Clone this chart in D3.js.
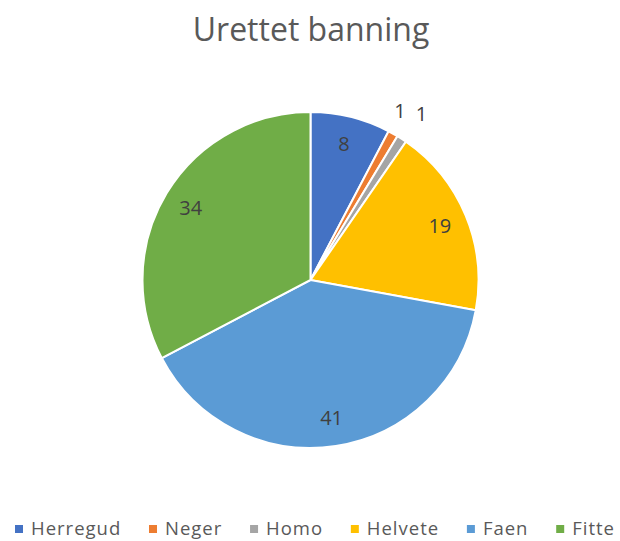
<!DOCTYPE html>
<html>
<head>
<meta charset="utf-8">
<script src="https://cdn.jsdelivr.net/npm/d3@7"></script>
<style>
  body { margin: 0; background: #fff; }
  text { font-family: "Open Sans", "Noto Sans", sans-serif; }
</style>
</head>
<body>
<svg id="chart"></svg>
<script>
const categories = ['Herregud', 'Neger', 'Homo', 'Helvete', 'Faen', 'Fitte'];
const values = [8, 1, 1, 19, 41, 34];
const colors = ['#4472C4', '#ED7D31', '#A5A5A5', '#FFC000', '#5B9BD5', '#70AD47'];
const title = 'Urettet banning';

const width = 620, height = 541;
const cx = 310.5, cy = 280, radius = 168;

const svg = d3.select('#chart')
  .attr('width', width)
  .attr('height', height);

svg.append('text')
  .attr('x', 311)
  .attr('y', 41)
  .attr('text-anchor', 'middle')
  .attr('font-size', 32)
  .attr('fill', '#595959')
  .text(title);

const data = categories.map((c, i) => ({ name: c, value: values[i], color: colors[i] }));

const pie = d3.pie().sort(null).value(d => d.value);
const arcs = pie(data);

const arc = d3.arc().innerRadius(0).outerRadius(radius);
const labelArc = d3.arc().innerRadius(140).outerRadius(140);
const outerLabelArc = d3.arc().innerRadius(194).outerRadius(194);

const g = svg.append('g').attr('transform', `translate(${cx},${cy})`);

g.selectAll('path')
  .data(arcs)
  .join('path')
  .attr('d', arc)
  .attr('fill', d => d.data.color)
  .attr('stroke', '#fff')
  .attr('stroke-width', 2);

// small slices get their labels outside the pie, spread apart
const total = d3.sum(values);
const isSmall = d => d.value / total < 0.03;

g.selectAll('text.lbl')
  .data(arcs)
  .join('text')
  .attr('class', 'lbl')
  .attr('transform', d => `translate(${(isSmall(d.data) ? outerLabelArc : labelArc).centroid(d)})`)
  .attr('text-anchor', (d, i) => {
    if (!isSmall(d.data)) return 'middle';
    return i > 0 && isSmall(data[i - 1]) ? 'start' : 'end';
  })
  .attr('dy', (d, i) => isSmall(d.data) && i > 0 && isSmall(data[i - 1]) ? '0.2em' : '0.35em')
  .attr('font-size', 20)
  .attr('fill', '#404040')
  .text(d => d.data.value);

// legend
const legend = svg.append('g').attr('transform', 'translate(0,529)');
const items = legend.selectAll('g')
  .data(data)
  .join('g');

items.append('rect')
  .attr('width', 8)
  .attr('height', 8)
  .attr('y', -4)
  .attr('fill', d => d.color);

items.append('text')
  .attr('x', 16)
  .attr('dy', '0.35em')
  .attr('font-size', 18.5)
  .attr('letter-spacing', 1)
  .attr('fill', '#595959')
  .text(d => d.name);

const left = 15, right = 615;
let widths = [];
items.each(function () { widths.push(this.getBBox().width); });
const gap = (right - left - d3.sum(widths)) / (widths.length - 1);
let x = left;
items.attr('transform', (d, i) => {
  const t = `translate(${x},0)`;
  x += widths[i] + gap;
  return t;
});
</script>
</body>
</html>
